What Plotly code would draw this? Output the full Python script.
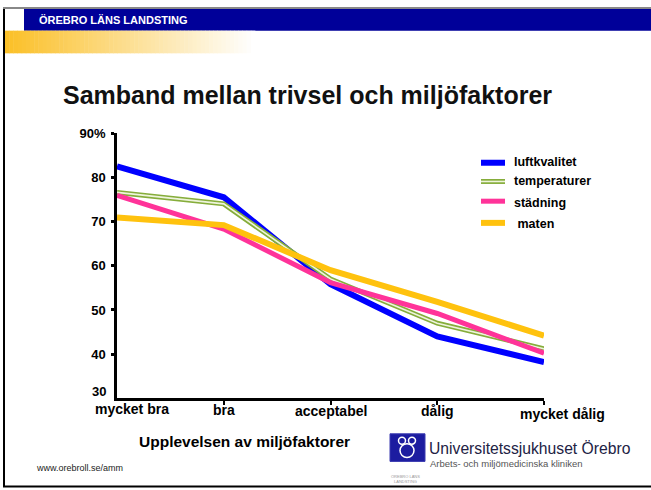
import plotly.graph_objects as go

# ---------------- data ----------------
categories = ["mycket bra", "bra", "acceptabel", "dålig", "mycket dålig"]
luftkvalitet = [82.5, 75.5, 55.8, 44.0, 38.2]
temperaturer = [76.6, 74.0, 57.0, 47.0, 41.2]
stadning = [75.9, 68.3, 56.2, 49.2, 40.2]
maten = [70.9, 69.2, 59.0, 51.8, 44.2]
y_tickvals = [40, 50, 60, 70, 80, 90]
y_ticktext = ["40", "50", "60", "70", "80", "90%"]
y_bottom_label = "30"
series_names = ["luftkvalitet", "temperaturer", "städning", " maten"]

W, H = 651, 490
FONT = "Liberation Sans, Arial, sans-serif"


def px(x):
    return x / W


def py(y):
    return 1 - y / H


x_idx = list(range(len(categories)))

fig = go.Figure()
BLUE, GREEN, GREEN_IN, PINK, GOLD = "#0000ff", "#86ad3b", "#eef4dc", "#ff3399", "#ffc20e"

fig.add_trace(go.Scatter(x=x_idx, y=luftkvalitet, mode="lines",
                         line=dict(color=BLUE, width=6), showlegend=False))
fig.add_trace(go.Scatter(x=x_idx, y=temperaturer, mode="lines",
                         line=dict(color=GREEN, width=5), showlegend=False))
fig.add_trace(go.Scatter(x=x_idx, y=temperaturer, mode="lines",
                         line=dict(color=GREEN_IN, width=1.6), showlegend=False))
fig.add_trace(go.Scatter(x=x_idx, y=stadning, mode="lines",
                         line=dict(color=PINK, width=5), showlegend=False))
fig.add_trace(go.Scatter(x=x_idx, y=maten, mode="lines",
                         line=dict(color=GOLD, width=6), showlegend=False))

shapes = []
annotations = []

# slide frame
shapes.append(dict(type="line", xref="paper", yref="paper", x0=px(4), x1=px(4), y0=py(1), y1=py(487),
                   line=dict(color="black", width=2)))
shapes.append(dict(type="line", xref="paper", yref="paper", x0=px(3), x1=px(651), y0=py(486.5), y1=py(486.5),
                   line=dict(color="black", width=2)))
shapes.append(dict(type="line", xref="paper", yref="paper", x0=px(3), x1=px(651), y0=py(1), y1=py(1),
                   line=dict(color="#888888", width=2)))

# header bar
shapes.append(dict(type="rect", xref="paper", yref="paper", x0=px(24), x1=px(651), y0=py(24), y1=py(2),
                   fillcolor="#000099", line=dict(width=0), layer="below"))
# gold gradient bar
n = 60
x_start, x_end = 5, 255
c0 = (251, 192, 40)
for i in range(n):
    t = i / (n - 1)
    r = int(c0[0] + (255 - c0[0]) * t)
    g = int(c0[1] + (255 - c0[1]) * t)
    b = int(c0[2] + (255 - c0[2]) * t)
    xa = x_start + (x_end - x_start) * i / n
    xb = x_start + (x_end - x_start) * (i + 1) / n + 0.5
    shapes.append(dict(type="rect", xref="paper", yref="paper", x0=px(xa), x1=px(xb), y0=py(47), y1=py(24),
                       fillcolor=f"rgb({r},{g},{b})", line=dict(width=0), layer="below"))

annotations.append(dict(text="<b>ÖREBRO LÄNS LANDSTING</b>", xref="paper", yref="paper", x=px(37), y=py(13),
                        xanchor="left", yanchor="middle", showarrow=False,
                        font=dict(family=FONT, size=11, color="white")))

# title
annotations.append(dict(text="<b>Samband mellan trivsel och miljöfaktorer</b>", xref="paper", yref="paper",
                        x=px(307.5), y=py(89), xanchor="center", yanchor="middle", showarrow=False,
                        font=dict(family=FONT, size=25, color="#111111")))

# x category labels
x_label_shift = [15, 0, 0, 0, 18]
x_label_y = [408, 409, 410, 410, 413]
for i, lab in enumerate(categories):
    annotations.append(dict(text=f"<b>{lab}</b>", xref="x", yref="paper", x=i, y=py(x_label_y[i]),
                            xanchor="center", yanchor="middle", xshift=x_label_shift[i], showarrow=False,
                            font=dict(family=FONT, size=14, color="black")))

# bottom y label
annotations.append(dict(text=f"<b>{y_bottom_label}</b>", xref="paper", yref="paper", x=px(108), y=py(390),
                        xanchor="right", yanchor="middle", showarrow=False,
                        font=dict(family=FONT, size=13, color="black")))

# x axis title
annotations.append(dict(text="<b>Upplevelsen av miljöfaktorer</b>", xref="paper", yref="paper",
                        x=px(244.5), y=py(441), xanchor="center", yanchor="middle", showarrow=False,
                        font=dict(family=FONT, size=15.5, color="black")))

# footer url
annotations.append(dict(text="www.orebroll.se/amm", xref="paper", yref="paper", x=px(34), y=py(468),
                        xanchor="left", yanchor="middle", showarrow=False,
                        font=dict(family=FONT, size=9, color="#222222")))

# custom legend
leg_colors = [BLUE, GREEN, PINK, GOLD]
leg_y = [158, 177, 197, 219]
leg_text_y = [157, 177, 199, 220]
leg_widths = [6, 5, 5, 6]
for name, col, ly, ty, lw in zip(series_names, leg_colors, leg_y, leg_text_y, leg_widths):
    shapes.append(dict(type="line", xref="paper", yref="paper", x0=px(481), x1=px(505), y0=py(ly), y1=py(ly),
                       line=dict(color=col, width=lw)))
    annotations.append(dict(text=f"<b>{name}</b>", xref="paper", yref="paper", x=px(512), y=py(ty),
                            xanchor="left", yanchor="middle", showarrow=False,
                            font=dict(family=FONT, size=12.5, color="black")))
shapes.append(dict(type="line", xref="paper", yref="paper", x0=px(481), x1=px(505), y0=py(177), y1=py(177),
                   line=dict(color=GREEN_IN, width=1.6)))

# logo
shapes.append(dict(type="rect", xref="paper", yref="paper", x0=px(390), x1=px(425), y0=py(461), y1=py(433),
                   fillcolor="#1c1ca0", line=dict(color="#3a3ab0", width=1)))
for (cx, cy, r) in [(402, 440, 3.5), (412, 440, 3.5), (407, 450, 7)]:
    shapes.append(dict(type="circle", xref="paper", yref="paper", x0=px(cx - r), x1=px(cx + r),
                       y0=py(cy + r), y1=py(cy - r), line=dict(color="white", width=1.5)))
annotations.append(dict(text="ÖREBRO LÄNS<br>LANDSTING", xref="paper", yref="paper", x=px(405), y=py(479),
                        xanchor="center", yanchor="middle", showarrow=False,
                        font=dict(family=FONT, size=4, color="#999999")))
annotations.append(dict(text="Universitetssjukhuset Örebro", xref="paper", yref="paper", x=px(427), y=py(448),
                        xanchor="left", yanchor="middle", showarrow=False,
                        font=dict(family=FONT, size=15.7, color="#222244")))
annotations.append(dict(text="Arbets- och miljömedicinska kliniken", xref="paper", yref="paper", x=px(428),
                        y=py(463), xanchor="left", yanchor="middle", showarrow=False,
                        font=dict(family=FONT, size=9.5, color="#555555")))

fig.update_layout(
    width=W, height=H,
    margin=dict(l=0, r=0, t=0, b=0),
    paper_bgcolor="white", plot_bgcolor="white",
    showlegend=False,
    shapes=shapes, annotations=annotations,
    xaxis=dict(domain=[px(117), px(544)], range=[0, 4], showgrid=False, zeroline=False,
               showline=True, linecolor="black", linewidth=2.5,
               tickmode="array", tickvals=x_idx[1:], ticktext=[""] * (len(x_idx) - 1),
               ticks="outside", ticklen=4, tickwidth=2, tickcolor="black"),
    yaxis=dict(domain=[py(397), py(128)], range=[30, 90], showgrid=False, zeroline=False,
               showline=True, linecolor="black", linewidth=2.5,
               tickmode="array", tickvals=y_tickvals, ticktext=[f"<b>{t}</b>" for t in y_ticktext],
               ticks="outside", ticklen=3, tickwidth=2.5, tickcolor="black", ticklabelstandoff=3,
               tickfont=dict(family=FONT, size=13, color="black")),
)

fig.write_html("out.html", config={"displayModeBar": False},
               post_script="document.body.style.margin='0';document.body.style.overflow='hidden';")
